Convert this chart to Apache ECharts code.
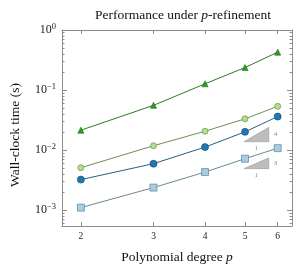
<!DOCTYPE html>
<html>
<head>
<meta charset="utf-8">
<script src="https://cdn.jsdelivr.net/npm/echarts@6/dist/echarts.min.js"></script>
<style>
html,body{margin:0;padding:0;background:#fff;}
#chart{width:297px;height:269px;}
</style>
</head>
<body>
<div id="chart"></div>
<script>
// ---- data ----
const degrees = [2, 3, 4, 5, 6];
const seriesNames = ['A', 'B', 'C', 'D'];
const timeTriangle = [0.0214, 0.0556, 0.127, 0.237, 0.427];
const timeLightGreen = [0.00508, 0.0118, 0.0206, 0.0331, 0.0535];
const timeBlue = [0.00322, 0.00593, 0.0112, 0.0201, 0.0361];
const timeSquare = [0.00110, 0.00237, 0.00430, 0.00718, 0.01076];
const xTickValues = [2, 3, 4, 5, 6];
const yMajorTicks = [0.001, 0.01, 0.1, 1];
const yMinorTicks = [];
[0.001, 0.01, 0.1].forEach(function (d) { for (let k = 2; k <= 9; k++) yMinorTicks.push(+(d * k).toPrecision(3)); });
yMinorTicks.unshift(0.0006, 0.0007, 0.0008, 0.0009);
// slope triangles: [x0, x1, yBottom, yTop, slopeLabel]
const slopeTriangles = [
  [4.97, 5.71, 0.01374, 0.0239, '4'],
  [4.97, 5.71, 0.0049, 0.00741, '3']
];

const frameColor = '#8c8c8c';
const serif = '"Liberation Serif", "DejaVu Serif", serif';

function pair(vals) { return degrees.map(function (p, i) { return [p, vals[i]]; }); }

function yLabel(v) {
  const e = Math.round(Math.log10(v));
  return '{b|10}{s|' + (e < 0 ? '\u2212' + (-e) : e) + '}';
}

const chart = echarts.init(document.getElementById('chart'), null, {renderer: 'canvas'});

const baseX = {
  type: 'log', logBase: 10, min: 1.8, max: 6.5,
  axisLine: {show: true, lineStyle: {color: frameColor, width: 1}},
  splitLine: {show: false},
  minorTick: {show: false}
};
const baseY = {
  type: 'log', logBase: 10, min: 0.000543, max: 1,
  axisLine: {show: true, lineStyle: {color: frameColor, width: 1}},
  splitLine: {show: false},
  minorTick: {show: false}
};

const option = {
  animation: false,
  backgroundColor: '#fff',
  title: {
    text: '{n|Performance under }{i|p}{n|-refinement}',
    left: 178, top: 3, textAlign: 'center',
    textStyle: {
      fontWeight: 'normal',
      rich: {
        n: {fontFamily: serif, fontSize: 13.5, fontWeight: 'normal', color: '#111'},
        i: {fontFamily: serif, fontSize: 13.5, fontWeight: 'normal', fontStyle: 'italic', color: '#111'}
      }
    }
  },
  grid: {left: 59, right: 5, top: 30, bottom: 42, containLabel: false},
  xAxis: [
    Object.assign({}, baseX, {
      position: 'bottom',
      name: '{n|Polynomial degree }{i|p}',
      nameLocation: 'middle', nameGap: 24,
      nameTextStyle: {
        rich: {
          n: {fontFamily: serif, fontSize: 13.5, color: '#111'},
          i: {fontFamily: serif, fontSize: 13.5, fontStyle: 'italic', color: '#111'}
        }
      },
      axisTick: {show: true, inside: true, length: 4, customValues: xTickValues, lineStyle: {color: frameColor}},
      axisLabel: {show: true, customValues: xTickValues, fontFamily: serif, fontSize: 9.5, color: '#222', margin: 5}
    }),
    Object.assign({}, baseX, {
      position: 'top',
      axisTick: {show: true, inside: true, length: 4, customValues: xTickValues, lineStyle: {color: frameColor}},
      axisLabel: {show: false}
    })
  ],
  yAxis: [
    Object.assign({}, baseY, {
      position: 'left',
      name: 'Wall-clock time (s)',
      nameLocation: 'middle', nameGap: 40,
      nameTextStyle: {fontFamily: serif, fontSize: 13.5, color: '#111', padding: [0, 14, 0, 0]},
      axisTick: {show: true, inside: true, length: 5, customValues: yMajorTicks, lineStyle: {color: frameColor}},
      axisLabel: {
        show: true, customValues: yMajorTicks, margin: 6, formatter: yLabel,
        rich: {
          b: {fontFamily: serif, fontSize: 12, color: '#222', lineHeight: 15},
          s: {fontFamily: serif, fontSize: 8.5, color: '#222', lineHeight: 15, verticalAlign: 'top', padding: [0, 0, 6, 0]}
        }
      }
    }),
    Object.assign({}, baseY, {
      position: 'left',
      axisLine: {show: false},
      axisTick: {show: true, inside: true, length: 2.5, customValues: yMinorTicks, lineStyle: {color: frameColor}},
      axisLabel: {show: false}
    }),
    Object.assign({}, baseY, {
      position: 'right',
      axisTick: {show: true, inside: true, length: 5, customValues: yMajorTicks, lineStyle: {color: frameColor}},
      axisLabel: {show: false}
    }),
    Object.assign({}, baseY, {
      position: 'right',
      axisLine: {show: false},
      axisTick: {show: true, inside: true, length: 2.5, customValues: yMinorTicks, lineStyle: {color: frameColor}},
      axisLabel: {show: false}
    })
  ],
  series: [
    {
      name: seriesNames[0], type: 'line', data: pair(timeTriangle),
      symbol: 'triangle', symbolSize: 6,
      lineStyle: {color: '#2e7d22', width: 1},
      itemStyle: {color: '#2f9a24', borderColor: '#1d6a17', borderWidth: 0.6}
    },
    {
      name: seriesNames[1], type: 'line', data: pair(timeLightGreen),
      symbol: 'circle', symbolSize: 6,
      lineStyle: {color: '#6f8f55', width: 1},
      itemStyle: {color: '#b2df8a', borderColor: '#6f8f55', borderWidth: 0.7}
    },
    {
      name: seriesNames[2], type: 'line', data: pair(timeBlue),
      symbol: 'circle', symbolSize: 7,
      lineStyle: {color: '#2b5d86', width: 1},
      itemStyle: {color: '#1f78b4', borderColor: '#1b4f78', borderWidth: 0.7}
    },
    {
      name: seriesNames[3], type: 'line', data: pair(timeSquare),
      symbol: 'rect', symbolSize: 7,
      lineStyle: {color: '#6d8797', width: 1},
      itemStyle: {color: '#a6cee3', borderColor: '#5f8296', borderWidth: 0.7}
    },
    {
      type: 'custom', data: slopeTriangles, silent: true, z: 1,
      renderItem: function (params, api) {
        const x0 = api.value(0), x1 = api.value(1), yb = api.value(2), yt = api.value(3);
        const lab = slopeTriangles[params.dataIndex][4];
        const a = api.coord([x0, yb]), b = api.coord([x1, yb]), c = api.coord([x1, yt]);
        return {
          type: 'group',
          children: [
            {type: 'polygon', shape: {points: [a, b, c]}, style: {fill: '#bdbdbd', stroke: '#9a9a9a', lineWidth: 0.6}},
            {type: 'text', style: {text: lab, x: b[0] + 5, y: (b[1] + c[1]) / 2, fill: '#888', font: '7px ' + serif, verticalAlign: 'middle', align: 'left'}},
            {type: 'text', style: {text: '1', x: (a[0] + b[0]) / 2, y: b[1] + 3, fill: '#888', font: '7px ' + serif, verticalAlign: 'top', align: 'center'}}
          ]
        };
      }
    }
  ]
};
chart.setOption(option);
</script>
</body>
</html>
